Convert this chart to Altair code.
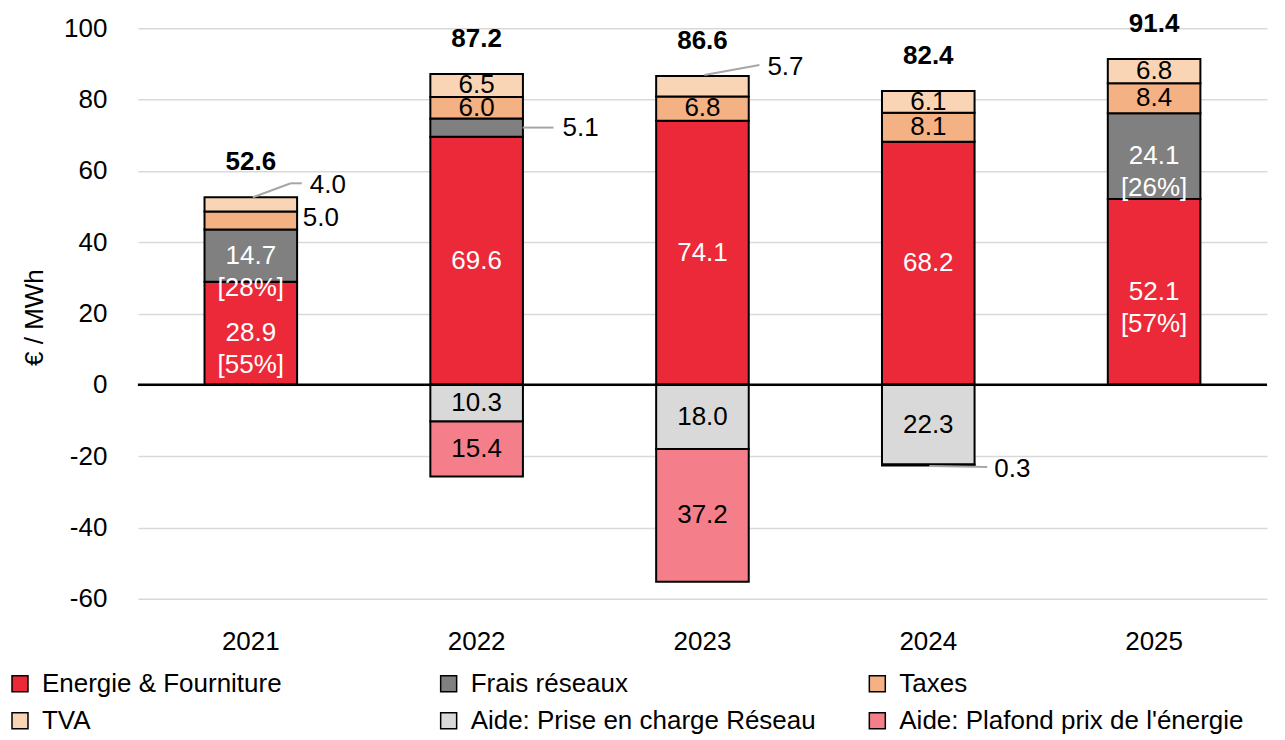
import altair as alt
import pandas as pd

# ---------------- data ----------------
years = ["2021", "2022", "2023", "2024", "2025"]
series_names = ["Energie & Fourniture", "Frais réseaux", "Taxes", "TVA",
                "Aide: Prise en charge Réseau", "Aide: Plafond prix de l'énergie"]
energie = [28.9, 69.6, 74.1, 68.2, 52.1]
frais = [14.7, 5.1, 0.0, 0.0, 24.1]
taxes = [5.0, 6.0, 6.8, 8.1, 8.4]
tva = [4.0, 6.5, 5.7, 6.1, 6.8]
aide_reseau = [0.0, -10.3, -18.0, -22.3, 0.0]
aide_plafond = [0.0, -15.4, -37.2, -0.3, 0.0]
totals = [52.6, 87.2, 86.6, 82.4, 91.4]
energie_share = ["55%", "", "", "", "57%"]
frais_share = ["28%", "", "", "", "26%"]
y_ticks = [-60, -40, -20, 0, 20, 40, 60, 80, 100]

colors = ["#EC2939", "#808080", "#F4B183", "#F9D5B6", "#D9D9D9", "#F47F8A"]
text_colors = ["#FFFFFF", "#FFFFFF", "#000000", "#000000", "#000000", "#000000"]
FONT = "Liberation Sans"
FS = 26

# legend entries are laid out column by column: order them so rows read like the reference
legend_order = [series_names[0], series_names[3], series_names[1],
                series_names[4], series_names[2], series_names[5]]

# callouts drawn outside the bars: (year, series, anchor, text dx, text dy, leader segments)
callouts = [
    ("2021", "TVA", "top", 59, -12, [(2, 0, 40, -14), (40, -14, 51, -14)]),
    ("2021", "Taxes", "mid", 52, -2, []),
    ("2022", "Frais réseaux", "mid", 86, 0, [(46, 0, 77, 0)]),
    ("2023", "TVA", "top", 65, -9, [(2, -1, 57, -11)]),
    ("2024", "Aide: Plafond prix de l'énergie", "mid", 66, 4, [(1, 1, 59, 2)]),
]

# ---------------- table ----------------
values = [energie, frais, taxes, tva, aide_reseau, aide_plafond]
rows = []
for i, yr in enumerate(years):
    pos, neg = 0.0, 0.0
    for k, name in enumerate(series_names):
        v = values[k][i]
        if v == 0:
            continue
        if v > 0:
            y0, y1 = pos, pos + v
            pos = y1
        else:
            y0, y1 = neg, neg + v
            neg = y1
        label = f"{abs(v):.1f}"
        share = energie_share[i] if k == 0 else (frais_share[i] if k == 1 else "")
        if share:
            label += f"\n[{share}]"
        rows.append(dict(year=yr, series=name, k=k, y0=y0, y1=y1,
                         mid=(y0 + y1) / 2, top=max(y0, y1) if v > 0 else y1,
                         label=label, tcolor=text_colors[k]))
df = pd.DataFrame(rows)
callout_keys = {(c[0], c[1]) for c in callouts}
df["outside"] = [(r.year, r.series) in callout_keys for r in df.itertuples()]
df_tot = pd.DataFrame(dict(year=years, total=totals, label=[f"{t:.1f}" for t in totals]))

x_enc = alt.X("year:N", sort=years,
              scale=alt.Scale(paddingInner=0.59, paddingOuter=0.295),
              axis=alt.Axis(title=None, labelAngle=0, domain=False, ticks=False,
                            tickSize=0, labelPadding=30, labelFontSize=FS,
                            labelFont=FONT, labelColor="#000000", grid=False))

base = alt.Chart(df)

bars = base.mark_bar(stroke="black", strokeWidth=2).encode(
    x=x_enc,
    y=alt.Y("y0:Q", scale=alt.Scale(domain=[-60, 100], nice=False, zero=False),
            axis=alt.Axis(values=y_ticks, title="€ / MWh", grid=True,
                          labelExpr="'' + datum.value",
                          gridColor="#D9D9D9", gridWidth=1.5, domain=False,
                          ticks=False, labelPadding=31, labelFontSize=FS,
                          labelFont=FONT, labelColor="#000000",
                          titleFontSize=FS, titleFont=FONT, titleFontWeight="normal",
                          titleColor="#000000", titleAngle=-90, titleX=-103,
                          titleY=289, titleAlign="center", titleBaseline="middle")),
    y2="y1:Q",
    color=alt.Color("series:N",
                    scale=alt.Scale(domain=series_names, range=colors),
                    legend=alt.Legend(title=None, orient="none", legendX=-131,
                                      legendY=643, columns=3, values=legend_order,
                                      symbolType="square",
                                      symbolSize=256, symbolStrokeColor="black",
                                      symbolStrokeWidth=1.5, labelFontSize=FS,
                                      labelFont=FONT, labelColor="#000000",
                                      columnPadding=48, rowPadding=11,
                                      labelOffset=9, gridAlign="all", padding=0,
                                      labelLimit=600)),
)

zero_rule = alt.Chart(pd.DataFrame({"z": [0]})).mark_rule(
    color="black", strokeWidth=2.5).encode(y="z:Q")

inside = base.transform_filter("!datum.outside").mark_text(
    font=FONT, fontSize=FS, baseline="middle", align="center",
    lineBreak="\n", lineHeight=32).encode(
    x=alt.X("year:N", sort=years), y="mid:Q", text="label:N",
    color=alt.Color("tcolor:N", scale=None))

total_txt = alt.Chart(df_tot).mark_text(
    font=FONT, fontSize=FS, fontWeight="bold", baseline="middle",
    align="center", dy=-35, color="black").encode(
    x=alt.X("year:N", sort=years), y="total:Q", text="label:N")

layers = [bars, inside, total_txt, zero_rule]

for yr, ser, anchor, tdx, tdy, segs in callouts:
    sub = df[(df.year == yr) & (df.series == ser)].copy()
    sub["anchor"] = sub[anchor]
    cb = alt.Chart(sub)
    for (ax1, ay1, ax2, ay2) in segs:
        layers.append(cb.mark_rule(color="#A6A6A6", strokeWidth=2,
                                   xOffset=ax1, x2Offset=ax2,
                                   yOffset=ay1, y2Offset=ay2).encode(
            x=alt.X("year:N", sort=years, bandPosition=0.5),
            x2=alt.X2("year:N", bandPosition=0.5),
            y="anchor:Q", y2="anchor:Q"))
    layers.append(cb.mark_text(font=FONT, fontSize=FS, baseline="middle",
                               align="left", dx=tdx, dy=tdy, color="black").encode(
        x=alt.X("year:N", sort=years), y="anchor:Q", text="label:N"))

chart = alt.layer(*layers).properties(
    width=1130, height=571,
    autosize=alt.AutoSizeParams(type="none"),
    padding={"left": 130, "top": 20, "right": 10, "bottom": 138},
).configure(font=FONT).configure_view(stroke=None)

chart.save("out.html", embed_options={"renderer": "svg", "actions": False})
